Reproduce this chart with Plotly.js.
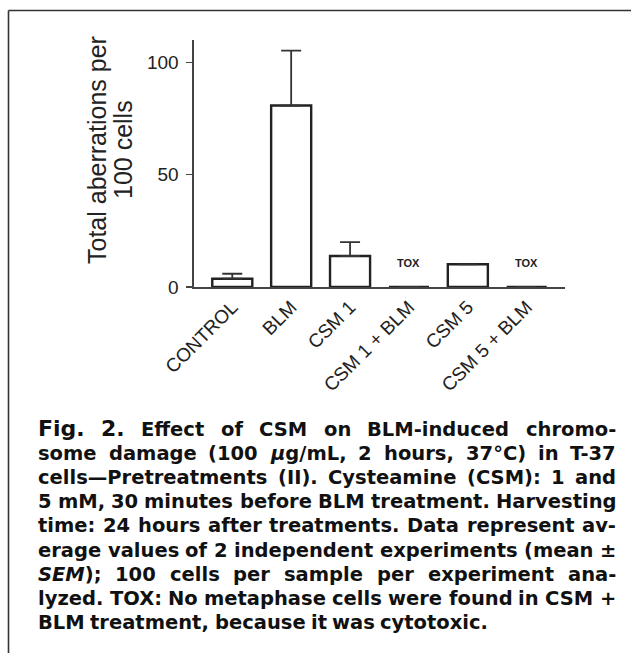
<!DOCTYPE html>
<html><head><meta charset="utf-8">
<script src="https://cdn.plot.ly/plotly-3.0.1.min.js"></script>
<style>html,body{margin:0;padding:0;background:#fff;overflow:hidden;} #chart{width:631px;height:653px;}</style>
</head><body><div id="chart"></div>
<script>
// ---- data ----
const categories = ['CONTROL', 'BLM', 'CSM 1', 'CSM 1 + BLM', 'CSM 5', 'CSM 5 + BLM'];
const means = [3.7, 80.8, 13.8, 0, 10.1, 0];
const semPlus = [2.2, 24.5, 6.2, 0, 0, 0];
const semMinus = [0, 0, 0, 0, 0, 0];
const toxCategories = ['CSM 1 + BLM', 'CSM 5 + BLM'];
const toxLabel = 'TOX';
const toxLevel = 10.5;
const yTickVals = [0, 50, 100];
const yTickText = ['0', '50', '100'];
const yTitleLines = ['Total aberrations per', '100 cells'];
const captionLines = [
  ['Fig.', '2.', 'Effect', 'of', 'CSM', 'on', 'BLM-induced', 'chromo-'],
  ['some', 'damage', '(100', '<i>μ</i>g/mL,', '2', 'hours,', '37°C)', 'in', 'T-37'],
  ['cells—Pretreatments', '(II).', 'Cysteamine', '(CSM):', '1', 'and'],
  ['5', 'mM,', '30', 'minutes', 'before', 'BLM', 'treatment.', 'Harvesting'],
  ['time:', '24', 'hours', 'after', 'treatments.', 'Data', 'represent', 'av-'],
  ['erage', 'values', 'of', '2', 'independent', 'experiments', '(mean', '±'],
  ['<i>SEM</i>);', '100', 'cells', 'per', 'sample', 'per', 'experiment', 'ana-'],
  ['lyzed.', 'TOX:', 'No', 'metaphase', 'cells', 'were', 'found', 'in', 'CSM', '+'],
  ['BLM', 'treatment,', 'because', 'it', 'was', 'cytotoxic.']
];
const captionLeadWords = 2; // "Fig. 2." is set larger

// ---- layout geometry ----
const W = 631, H = 653, ML = 194, MR = 66, MT = 40, MB = 366;
const plotW = W - ML - MR, plotH = H - MT - MB;
const px2x = px => (px - ML) / plotW;
const py2y = py => (H - MB - py) / plotH;

const capLeft = 37, capRight = 615, capBottom0 = 442, capStep = 24.1;
const capFont = 'DejaVu Sans', capSize = 19.5, capLeadSize = 22, capWeight = 700;

const bars = {
  type: 'bar',
  x: categories,
  y: means,
  marker: {color: '#ffffff', line: {color: '#222222', width: 2.4}},
  error_y: {type: 'data', symmetric: false, array: semPlus, arrayminus: semMinus,
            color: '#333333', thickness: 1.8, width: 10},
  hoverinfo: 'none'
};

const annotations = [];
toxCategories.forEach(c => annotations.push({
  x: c, y: toxLevel, xref: 'x', yref: 'y', text: '<b>' + toxLabel + '</b>',
  showarrow: false, xanchor: 'center', yanchor: 'middle',
  font: {family: 'Liberation Sans', size: 11, color: '#222'}
}));
const titleX = [97, 123];
yTitleLines.forEach((t, i) => annotations.push({
  x: px2x(titleX[i]), y: py2y(150), xref: 'paper', yref: 'paper', text: t,
  textangle: -90, showarrow: false, xanchor: 'center', yanchor: 'middle',
  font: {family: 'Liberation Sans', size: 25, color: '#222'}
}));
const capIdx = [];
captionLines.forEach((words, li) => {
  const row = [];
  words.forEach((w, wi) => {
    row.push(annotations.length);
    const lead = li === 0 && wi < captionLeadWords;
    annotations.push({
      x: px2x(capLeft), y: py2y(capBottom0 + li * capStep), xref: 'paper', yref: 'paper',
      text: w, showarrow: false, xanchor: 'left', yanchor: 'bottom',
      borderpad: 0,
      font: {family: capFont, size: lead ? capLeadSize : capSize, color: '#111', weight: capWeight}
    });
  });
  capIdx.push(row);
});

const shapes = [
  {type: 'line', xref: 'paper', yref: 'paper', x0: px2x(8.5), x1: px2x(640), y0: py2y(10.5), y1: py2y(10.5),
   line: {color: '#333', width: 1.6}},
  {type: 'line', xref: 'paper', yref: 'paper', x0: px2x(8.5), x1: px2x(8.5), y0: py2y(10.5), y1: py2y(660),
   line: {color: '#333', width: 1.6}}
];

const layout = {
  width: W, height: H,
  margin: {l: ML, r: MR, t: MT, b: MB, pad: 0},
  paper_bgcolor: '#fff', plot_bgcolor: '#fff',
  showlegend: false,
  bargap: 0.32,
  xaxis: {
    type: 'category', range: [-0.65, 5.65], showline: true, linecolor: '#444', linewidth: 1.6,
    ticks: '', tickangle: -45, showgrid: false, zeroline: false,
    tickfont: {family: 'Liberation Sans', size: 19, color: '#222'}, fixedrange: true
  },
  yaxis: {
    range: [0, 110], showline: true, linecolor: '#444', linewidth: 1.6,
    ticks: 'outside', ticklen: 6, tickwidth: 1.5, tickcolor: '#444', ticklabelstandoff: 4,
    tickvals: yTickVals, ticktext: yTickText, showgrid: false, zeroline: false,
    tickfont: {family: 'Liberation Sans', size: 19, color: '#222'}, fixedrange: true
  },
  annotations: annotations,
  shapes: shapes
};

const gd = document.getElementById('chart');
Plotly.newPlot(gd, [bars], layout, {displayModeBar: false, staticPlot: true}).then(() => {
  const widthOf = i => {
    const g = gd.querySelector('.annotation[data-index="' + i + '"] .annotation-text');
    return g ? g.getBBox().width : 0;
  };
  const upd = {};
  const span = capRight - capLeft;
  capIdx.forEach((row, li) => {
    const ws = row.map(widthOf);
    const total = ws.reduce((a, b) => a + b, 0);
    const last = li === capIdx.length - 1;
    const gap = last ? 5.5 : (span - total) / (row.length - 1);
    let x = capLeft;
    row.forEach((ai, k) => {
      upd['annotations[' + ai + '].x'] = px2x(x);
      x += ws[k] + gap;
    });
  });
  return Plotly.relayout(gd, upd);
});
</script>
</body></html>
